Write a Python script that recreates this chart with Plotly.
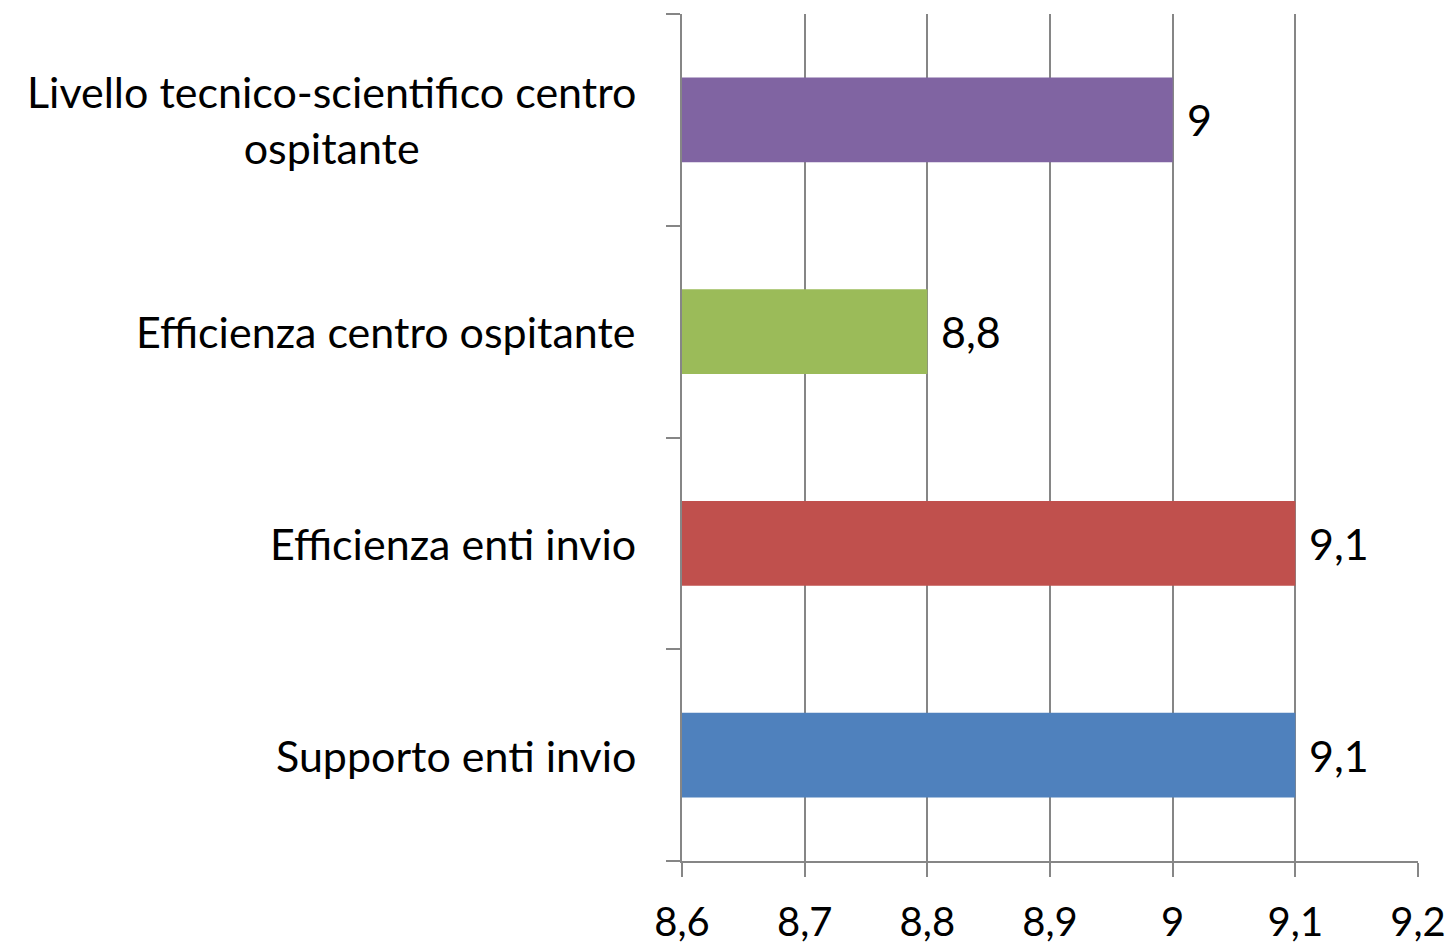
import plotly.graph_objects as go

categories = ["Supporto enti invio", "Efficienza enti invio", "Efficienza centro ospitante",
              "Livello tecnico-scientifico centro<br>ospitante"]
values = [9.1, 9.1, 8.8, 9.0]
colors = ["#4F81BD", "#C0504D", "#9BBB59", "#8064A2"]
value_labels = ["9,1", "9,1", "8,8", "9"]
x_ticks = [8.6, 8.7, 8.8, 8.9, 9.0, 9.1, 9.2]
x_tick_labels = ["8,6", "8,7", "8,8", "8,9", "9", "9,1", "9,2"]

FONT = "Lato"
FS = 43
GRID = "#868686"

fig = go.Figure()
fig.add_trace(go.Bar(
    y=categories, x=[v - 8.6 for v in values], base=8.6, orientation="h",
    marker=dict(color=colors, line=dict(width=0)), width=0.4,
    hoverinfo="skip", showlegend=False,
))

annotations = []
for c, v, t in zip(categories, values, value_labels):
    annotations.append(dict(x=v, y=c, xref="x", yref="y", text=t, showarrow=False,
                            xanchor="left", xshift=12, font=dict(family=FONT, size=FS, color="#000")))
    annotations.append(dict(x=0, y=c, xref="paper", yref="y", text=c, showarrow=False,
                            xanchor="right", xshift=-44, align="center",
                            font=dict(family=FONT, size=FS, color="#000")))

fig.update_layout(
    width=1450, height=947,
    margin=dict(l=682, r=32, t=14, b=86, autoexpand=False),
    paper_bgcolor="white", plot_bgcolor="white",
    separators=",.",
    annotations=annotations,
    bargap=0.6,
    xaxis=dict(range=[8.6, 9.2], tickvals=x_ticks, ticktext=x_tick_labels,
               showgrid=True, gridcolor=GRID, gridwidth=1.5,
               showline=True, linecolor=GRID, linewidth=1.5,
               ticks="outside", ticklen=14, tickcolor=GRID, tickwidth=1.5,
               ticklabelstandoff=11, automargin=False,
               tickfont=dict(family=FONT, size=40, color="#000"), zeroline=False),
    yaxis=dict(categoryorder="array", categoryarray=categories,
               showgrid=False, showline=True, linecolor=GRID, linewidth=1.5,
               ticks="outside", ticklen=14, tickcolor=GRID, tickwidth=1.5,
               tickson="boundaries", showticklabels=False, zeroline=False,
               automargin=False, range=[-0.5, 3.5]),
)

fig.write_html("out.html", config={"displayModeBar": False},
               post_script="document.body.style.margin='0';document.body.style.overflow='hidden';")
